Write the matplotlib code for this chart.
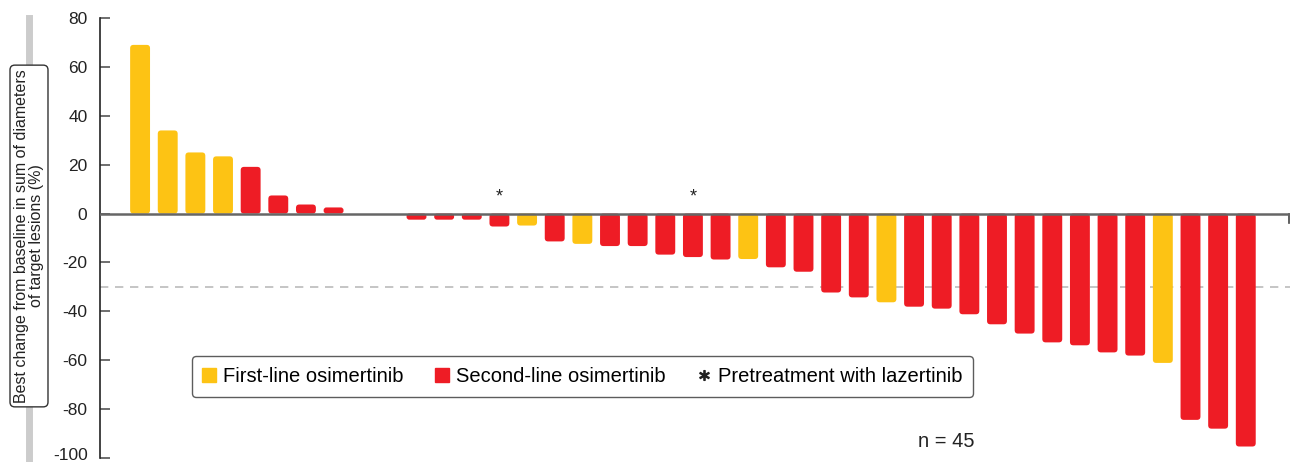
import matplotlib
matplotlib.use('Agg')
import matplotlib.pyplot as plt
from matplotlib.patches import FancyBboxPatch
from matplotlib.lines import Line2D
from matplotlib.transforms import ScaledTranslation

plt.rcParams['font.family'] = ['Liberation Sans', 'DejaVu Sans']

# best change from baseline (%) per patient, sorted
changes = [69, 34, 25, 23.4, 19.1, 7.4, 3.7, 2.5, 0, 0,
           -2.5, -2.5, -2.5, -5.3, -4.9, -11.4, -12.4, -13.3, -13.3, -16.8,
           -17.8, -18.8, -18.6, -22, -23.8, -32.3, -34.3, -36.3, -38.1, -38.9,
           -41.2, -45.3, -49.1, -52.7, -53.9, -56.8, -58.1, -61.1, -84.4, -88,
           -95.3]
# 1 = first-line, 2 = second-line osimertinib
line_of_therapy = [1, 1, 1, 1, 2, 2, 2, 2, 2, 2,
                   2, 2, 2, 2, 1, 2, 1, 2, 2, 2,
                   2, 2, 1, 2, 2, 2, 2, 1, 2, 2,
                   2, 2, 2, 2, 2, 2, 2, 1, 2, 2,
                   2]
lazertinib_pretreated = [13, 20]
pr_threshold = -30
yticks = [80, 60, 40, 20, 0, -20, -40, -60, -80, -100]

yellow = '#fdc314'
red = '#ee1c25'
colors = {1: yellow, 2: red}

fig = plt.figure(figsize=(12.98, 4.62), dpi=100)
ax = fig.add_axes([100 / 1298, 4 / 462, 1190 / 1298, 440 / 462])

xlo, xhi = -1.45, 41.6
ax.set_xlim(xlo, xhi)
ax.set_ylim(-100, 80)

# keep corners round in screen space
aspect = (1190 / (xhi - xlo)) / (440 / 180)
w = 0.72
for i, (v, l) in enumerate(zip(changes, line_of_therapy)):
    if v == 0:
        continue
    h = abs(v)
    r = min(0.12, h / aspect / 2.2)
    p = FancyBboxPatch((i - w / 2, min(0, v)), w, h,
                       boxstyle=f'round,pad=0,rounding_size={r}',
                       mutation_aspect=aspect,
                       fc=colors[l], ec='none', zorder=2)
    ax.add_patch(p)

for i in lazertinib_pretreated:
    ax.text(i, 3.5, '*', ha='center', va='bottom', fontsize=13, color='#222')

ax.axhline(0, color='#666666', lw=1.8, zorder=3)
ax.plot([xhi - 0.05, xhi - 0.05], [0, -4], color='#444444', lw=1.2, clip_on=False)
ax.axhline(pr_threshold, color='#bbbbbb', lw=1.2, ls=(0, (5, 4)), zorder=1)

for s in ['top', 'right', 'bottom']:
    ax.spines[s].set_visible(False)
ax.spines['left'].set_color('#222222')
ax.spines['left'].set_linewidth(1.2)
ax.set_xticks([])
ax.set_yticks(yticks)
ax.set_yticklabels([str(t) for t in yticks], fontsize=12.5, color='#222')
ax.tick_params(axis='y', direction='in', length=7.5, width=1.2, color='#555', pad=9)
# nudge the bottom label so it stays inside the figure
bottom_lbl = ax.get_yticklabels()[-1]
bottom_lbl.set_transform(bottom_lbl.get_transform()
                         + ScaledTranslation(0, 4 / 100, fig.dpi_scale_trans))

handles = [
    Line2D([], [], ls='none', marker='s', ms=10, mfc=yellow, mec=yellow),
    Line2D([], [], ls='none', marker='s', ms=10, mfc=red, mec=red),
    Line2D([], [], ls='none', marker='$*$', ms=7, mfc='#222', mec='#222'),
]
labels = ['First-line osimertinib', 'Second-line osimertinib',
          'Pretreatment with lazertinib']
leg = ax.legend(handles, labels, loc='center', ncol=3,
                bbox_to_anchor=(0.4055, 0.185), fontsize=14.5,
                frameon=True, fancybox=True, edgecolor='#333333',
                handlelength=0.6, handletextpad=0.4, columnspacing=1.6,
                borderpad=0.55)
leg.get_frame().set_linewidth(1.0)

ax.text(0.687, 0.038, 'n = 45', transform=ax.transAxes, fontsize=14.5,
        color='#222', ha='left', va='center')

# grey bar behind the y-axis title
fig.add_artist(Line2D([29 / 1298, 29 / 1298], [0, 1 - 18 / 462],
                      transform=fig.transFigure, color='#cccccc', lw=5, zorder=0))
fig.text(29 / 1298, 1 - 236 / 462,
         'Best change from baseline in sum of diameters\nof target lesions (%)',
         rotation=90, ha='center', va='center', fontsize=11.5, color='#222',
         linespacing=1.0, zorder=2,
         bbox=dict(boxstyle='round,pad=0.25,rounding_size=0.3', fc='white',
                   ec='#333333', lw=1.0))

fig.savefig('out.png', dpi=100)
